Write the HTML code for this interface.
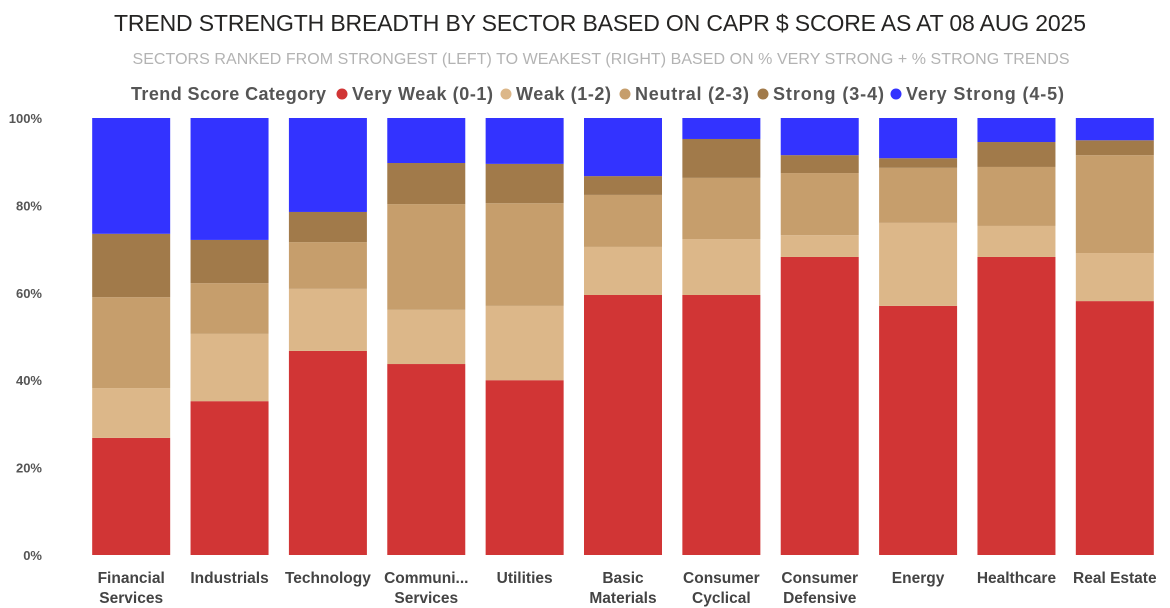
<!DOCTYPE html>
<html><head><meta charset="utf-8"><style>
body{margin:0;background:#fff;font-family:"Liberation Sans",sans-serif;}
svg{display:block}
</style></head><body>
<svg id="chart" width="1170" height="608">
<text x="600" y="31" text-anchor="middle" font-size="23" fill="#252423" textLength="972">TREND STRENGTH BREADTH BY SECTOR BASED ON CAPR $ SCORE AS AT 08 AUG 2025</text>
<text x="601" y="64" text-anchor="middle" font-size="16" fill="#b3b3b3" textLength="937">SECTORS RANKED FROM STRONGEST (LEFT) TO WEAKEST (RIGHT) BASED ON % VERY STRONG + % STRONG TRENDS</text>
<g id="legend"></g>
<g id="axis"></g>
<g id="bars"></g>
<g id="xlabels"></g>
</svg>
<script>
const categories=[["Financial","Services"],["Industrials"],["Technology"],["Communi...","Services"],["Utilities"],["Basic","Materials"],["Consumer","Cyclical"],["Consumer","Defensive"],["Energy"],["Healthcare"],["Real Estate"]];
const veryWeak=[26.8,35.2,46.7,43.7,40.0,59.5,59.5,68.2,57.0,68.2,58.1];
const weak=[11.4,15.4,14.2,12.4,17.0,11.0,12.8,5.0,19.0,7.1,11.0];
const neutral=[20.8,11.6,10.7,24.2,23.5,11.9,14.0,14.2,12.6,13.5,22.4];
const strong=[14.5,9.9,6.9,9.4,9.0,4.3,8.9,4.1,2.2,5.7,3.4];
const veryStrong=[26.5,27.9,21.5,10.3,10.5,13.3,4.8,8.5,9.2,5.5,5.1];
const yTicks=[0,20,40,60,80,100];
const seriesNames=["Very Weak (0-1)","Weak (1-2)","Neutral (2-3)","Strong (3-4)","Very Strong (4-5)"];
const series=[veryWeak,weak,neutral,strong,veryStrong];
const colors=["#D13535","#DCB789","#C69E6C","#A17A4A","#3333FF"];
const NS="http://www.w3.org/2000/svg";
const y0=555,y1=118,xL=82,xR=1164;
const yS=v=>y0-(v/100)*(y0-y1);
const step=(xR-xL)/categories.length,bw=78;
const xC=i=>xL+step*(i+0.5);
function mk(t,a,p){const e=document.createElementNS(NS,t);for(const k in a)e.setAttribute(k,a[k]);p.appendChild(e);return e;}
const ax=document.getElementById('axis');
yTicks.forEach(t=>{const e=mk('text',{x:42,y:yS(t)+5,'text-anchor':'end','font-size':13,'font-weight':'bold',fill:'#555'},ax);


e.textContent=t+'%';});
const bars=document.getElementById('bars');
categories.forEach((c,i)=>{let cum=0;series.forEach((s,j)=>{const v=s[i];const r=mk('rect',{x:xC(i)-bw/2,y:yS(cum+v),width:bw,height:yS(cum)-yS(cum+v),fill:colors[j]},bars);


cum+=v;});});
const xl=document.getElementById('xlabels');
categories.forEach((c,i)=>{c.forEach((ln,k)=>{const e=mk('text',{x:xC(i),y:583+k*20,'text-anchor':'middle','font-size':15.5,'font-weight':'bold',fill:'#444'},xl);


e.textContent=ln;});});
const lg=document.getElementById('legend');
const lt=mk('text',{x:131,y:100,'font-size':18,'font-weight':'bold',fill:'#555',textLength:195},lg);


lt.textContent='Trend Score Category';
const lx=[336,500,619,757,890];
const lw=[141,95,114,111,158];
seriesNames.forEach((n,j)=>{const g=mk('g',{},lg);


mk('circle',{cx:lx[j]+6,cy:94,r:5.5,fill:colors[j]},g);
const t=mk('text',{x:lx[j]+16,y:100,'font-size':18,'font-weight':'bold',fill:'#555',textLength:lw[j]},g);t.textContent=n;});
</script>
</body></html>
